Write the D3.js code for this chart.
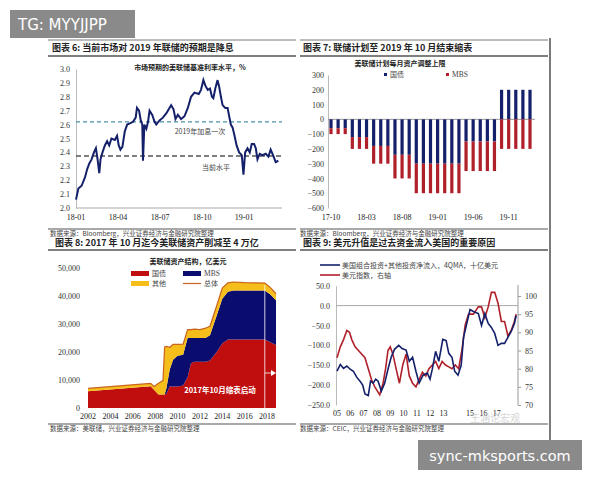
<!DOCTYPE html>
<html><head><meta charset="utf-8">
<script src="https://cdn.jsdelivr.net/npm/d3@7"></script>
<style>
body{margin:0;background:#fff}
text{font-family:"Liberation Serif","Noto Sans CJK SC",serif}
text.cn{font-family:"Noto Sans CJK SC",sans-serif}
text.wm{font-family:"DejaVu Sans",sans-serif}
</style></head><body>
<svg id="c" width="600" height="480"></svg>
<script>
// ---------- data ----------
// fig 6: market-implied policy rate, months since 2018-01
var rateMonths = [0,0.17,0.4,0.64,0.8,0.95,1.11,1.28,1.42,1.54,1.66,1.75,1.89,2.06,2.22,2.37,2.53,2.77,2.93,3.05,3.17,3.31,3.48,3.65,3.88,4.07,4.26,4.35,4.5,4.62,4.73,4.78,4.88,5.02,5.14,5.25,5.44,5.61,5.73,5.96,6.2,6.44,6.67,6.79,6.96,7.1,7.27,7.5,7.74,7.98,8.21,8.45,8.76,8.92,9.09,9.23,9.4,9.56,9.7,9.8,9.94,10.1,10.22,10.34,10.46,10.65,10.82,10.93,11.05,11.17,11.29,11.46,11.64,11.83,11.95,12.07,12.24,12.4,12.54,12.71,12.83,12.95,13.11,13.3,13.54,13.73,13.89,14.06,14.25,14.44];
var rateVals = [2.06,2.14,2.16,2.22,2.28,2.32,2.35,2.40,2.43,2.35,2.25,2.35,2.40,2.45,2.48,2.45,2.50,2.49,2.52,2.45,2.42,2.44,2.55,2.60,2.61,2.62,2.65,2.72,2.70,2.63,2.60,2.34,2.60,2.57,2.62,2.70,2.67,2.62,2.60,2.63,2.65,2.68,2.72,2.74,2.71,2.64,2.67,2.64,2.66,2.72,2.80,2.83,2.82,2.85,2.92,2.88,2.85,2.86,2.80,2.79,2.86,2.92,2.87,2.80,2.74,2.72,2.72,2.66,2.60,2.58,2.53,2.45,2.40,2.38,2.24,2.40,2.43,2.40,2.46,2.46,2.43,2.35,2.39,2.38,2.39,2.37,2.42,2.38,2.33,2.34];
var rateTicks = ["18-01","18-04","18-07","18-10","19-01"];
var hikeOnce = 2.62, nowLevel = 2.375;

// fig 7: monthly runoff caps (MBS stacked below treasuries)
var capTsy = [-60,-60,-60,-120,-120,-120,-180,-180,-180,-240,-240,-240,-300,-300,-300,-300,-300,-300,-300,-150,-150,-150,-150,-150,200,200,200,200,200];
var capMbs = [-40,-40,-40,-80,-80,-80,-120,-120,-120,-160,-160,-160,-200,-200,-200,-200,-200,-200,-200,-200,-200,-200,-200,-200,-200,-200,-200,-200,-200];
var capTicks = ["17-10","18-03","18-08","19-01","19-06","19-11"];

// fig 8: Fed balance sheet, 亿美元
var bsYears = [2002,2007.6,2007.9,2008.3,2008.7,2008.85,2009.0,2009.3,2009.6,2010.0,2010.5,2010.9,2011.2,2011.5,2012.0,2012.5,2012.9,2013.5,2014.0,2014.5,2015,2016,2017,2017.8,2018.3,2018.8];
var bsTsy = [6000,7800,6500,4800,4800,4800,5000,7700,7700,7700,8000,11000,16000,16500,16500,16500,17000,20000,23000,24500,24500,24500,24500,24500,23500,22500];
var bsMbs = [0,0,0,0,0,0,2000,6000,9500,11000,11000,14000,9000,8500,8500,8500,9000,13000,16000,17000,17500,17500,17500,17500,17000,16000];
var bsOther = [1000,1000,1200,4000,5000,17000,15000,8000,5500,4000,3800,3000,3000,3200,3000,3500,3200,3500,3800,3200,3000,2800,2700,2600,2500,2300];

// fig 9: flows vs dollar index, years since 2005
var flowT = [0,.25,.49,.74,.99,1.23,1.48,1.73,1.93,2.1,2.35,2.52,2.72,2.91,3.09,3.33,3.58,3.83,4.07,4.32,4.64,4.89,5.19,5.43,5.68,5.93,6.17,6.47,6.79,6.99,7.16,7.41,7.65,7.95,8.2,8.4,8.64,8.84,9.09,9.33,9.51,9.75,10,10.25,10.62,10.86,11.11,11.36,11.6,11.85,12.1,12.35,12.59,12.84,13.09,13.33,13.46];
var flowV = [-165,-148,-158,-152,-160,-165,-180,-190,-200,-222,-226,-190,-195,-185,-190,-215,-195,-160,-130,-110,-100,-108,-112,-140,-130,-165,-195,-175,-170,-185,-160,-115,-140,-85,-88,-120,-130,-165,-175,-150,-80,-45,-10,-15,-20,-50,-20,-45,-55,-70,-100,-95,-95,-80,-65,-45,-25];
var dxyT = [0,.25,.49,.74,.94,1.11,1.36,1.73,2.1,2.35,2.59,2.84,3.21,3.46,3.65,3.83,4,4.2,4.44,4.69,4.94,5.19,5.43,5.68,5.93,6.17,6.42,6.67,6.91,7.16,7.41,7.65,7.9,8.15,8.4,8.64,8.89,9.14,9.38,9.63,9.88,10.25,10.62,10.86,11.11,11.36,11.6,11.85,12.1,12.35,12.59,12.84,13.09,13.33,13.46];
var dxyV = [83,86,88,90.5,90,88,86,84.5,83,80,77,75,72.8,76,80,85,86,84,80,76,81,84,78,76,75,77,79,78,80,81,82,80,82,81,80.5,80,81,80,85,92,95,95,97,97,94,97,101,101,98,93,93,89,90.5,93,95];
var yearLabels = ["05","06","07","08","09","10","11","12","13","15","16","17"];
var yearOffs = [0,1,2,3,4,5,6,7,8,10,11,12];

var navy = "#14206a", red = "#b0202a";
var svg = d3.select("#c");

function txt(x, y, s, o) {
  o = o || {};
  return svg.append("text").attr("x", x).attr("y", y).text(s)
    .attr("font-size", o.size || 8).attr("fill", o.fill || "#222")
    .attr("text-anchor", o.anchor || "start")
    .attr("font-weight", o.bold ? "bold" : null)
    .attr("class", o.cls || null);
}
function rule(x1, x2, y, w) {
  svg.append("line").attr("x1", x1).attr("x2", x2).attr("y1", y).attr("y2", y)
    .attr("stroke", "#555").attr("stroke-width", w || 0.8);
}
function styleAxis(g) {
  g.selectAll("path,line").attr("stroke", "#999");
  g.selectAll("text").attr("font-size", 8).attr("fill", "#333");
}

// ---------- frame ----------
rule(48, 296, 40, 0.8); rule(48, 296, 56, 1.5); rule(48, 296, 229, 1.2);
rule(300, 548, 40, 0.8); rule(300, 548, 56, 1.5); rule(300, 548, 229, 1.2);
rule(48, 296, 250, 1.5); rule(48, 296, 424, 1.2);
rule(300, 548, 250, 1.5); rule(300, 548, 424, 1.2);
svg.append("line").attr("x1", 550).attr("x2", 550).attr("y1", 38).attr("y2", 440)
  .attr("stroke", "#222").attr("stroke-width", 1.2);

txt(52, 51, "图表 6:  当前市场对 2019 年联储的预期是降息", {size: 9, bold: true, cls: "cn"});
txt(303, 51, "图表 7:  联储计划至 2019 年 10 月结束缩表", {size: 9, bold: true, cls: "cn"});
txt(55, 246, "图表 8:  2017 年 10 月迄今美联储资产削减至 4 万亿", {size: 9, bold: true, cls: "cn"});
txt(303, 246, "图表 9:  美元升值是过去资金流入美国的重要原因", {size: 9, bold: true, cls: "cn"});
txt(50, 236, "数据来源：Bloomberg，兴业证券经济与金融研究院整理", {size: 6.5, cls: "cn", fill: "#444"});
txt(300, 236, "数据来源：Bloomberg，兴业证券经济与金融研究院整理", {size: 6.5, cls: "cn", fill: "#444"});
txt(50, 431, "数据来源：美联储，兴业证券经济与金融研究院整理", {size: 6.5, cls: "cn", fill: "#444"});
txt(300, 431, "数据来源：CEIC，兴业证券经济与金融研究院整理", {size: 6.5, cls: "cn", fill: "#444"});

// ---------- fig 6 ----------
(function () {
  var x = d3.scaleLinear().domain([0, 14.7]).range([76, 282]);
  var y = d3.scaleLinear().domain([2.0, 3.0]).range([208, 69]);
  var ga = svg.append("g").attr("transform", "translate(76,0)")
    .call(d3.axisLeft(y).tickValues(d3.range(2.0, 3.01, 0.1)).tickFormat(d3.format(".1f")).tickSize(0).tickPadding(6));
  styleAxis(ga); ga.select("path").attr("stroke", "#bbb");
  svg.append("line").attr("x1", 76).attr("x2", 282).attr("y1", 208).attr("y2", 208).attr("stroke", "#aaa");
  rateTicks.forEach(function (t, i) { txt(x(i * 3), 220, t, {anchor: "middle"}); });
  svg.append("line").attr("x1", 76).attr("x2", 282).attr("y1", y(hikeOnce)).attr("y2", y(hikeOnce))
    .attr("stroke", "#4b93a8").attr("stroke-dasharray", "4,3").attr("stroke-width", 1.2);
  svg.append("line").attr("x1", 76).attr("x2", 282).attr("y1", y(nowLevel)).attr("y2", y(nowLevel))
    .attr("stroke", "#555").attr("stroke-dasharray", "5,3").attr("stroke-width", 1.5);
  svg.append("path").datum(d3.zip(rateMonths, rateVals))
    .attr("d", d3.line().x(function (d) { return x(d[0]); }).y(function (d) { return y(d[1]); }))
    .attr("fill", "none").attr("stroke", navy).attr("stroke-width", 2);
  txt(190, 70, "市场预期的美联储基准利率水平，%", {size: 7, bold: true, anchor: "middle", cls: "cn"});
  txt(200, 134, "2019年加息一次", {size: 7, anchor: "middle", cls: "cn", fill: "#444"});
  txt(216, 170, "当前水平", {size: 7, anchor: "middle", cls: "cn", fill: "#444"});
})();

// ---------- fig 7 ----------
(function () {
  var x = d3.scaleLinear().domain([0, 28]).range([331, 530]);
  var y = d3.scaleLinear().domain([-600, 300]).range([208, 75]);
  var ga = svg.append("g").attr("transform", "translate(328,0)")
    .call(d3.axisLeft(y).tickValues(d3.range(-600, 301, 100)).tickSize(0).tickPadding(4));
  styleAxis(ga); ga.select("path").attr("stroke", "#bbb");
  svg.append("line").attr("x1", 328).attr("x2", 535).attr("y1", y(0)).attr("y2", y(0)).attr("stroke", "#999");
  capTicks.forEach(function (t, i) { txt(x(i * 5), 220, t, {anchor: "middle"}); });
  var idx = d3.range(capTsy.length);
  svg.selectAll(".bt").data(idx).enter().append("rect")
    .attr("x", function (i) { return x(i) - 1.6; }).attr("width", 3.2)
    .attr("y", function (i) { return y(Math.max(0, capTsy[i])); })
    .attr("height", function (i) { return Math.abs(y(capTsy[i]) - y(0)); })
    .attr("fill", navy);
  svg.selectAll(".bm").data(idx).enter().append("rect")
    .attr("x", function (i) { return x(i) - 1.6; }).attr("width", 3.2)
    .attr("y", function (i) { return y(Math.min(0, capTsy[i])); })
    .attr("height", function (i) { return y(capMbs[i]) - y(0); })
    .attr("fill", red);
  txt(400, 66, "美联储计划每月资产调整上限", {size: 7, bold: true, anchor: "middle", cls: "cn"});
  svg.append("rect").attr("x", 384).attr("y", 73).attr("width", 3).attr("height", 3).attr("fill", navy);
  txt(390, 77, "国债", {size: 7, cls: "cn", fill: "#444"});
  svg.append("rect").attr("x", 446).attr("y", 73).attr("width", 3).attr("height", 3).attr("fill", red);
  txt(452, 77, "MBS", {size: 7.5, fill: "#444"});
})();

// ---------- fig 8 ----------
(function () {
  var x = d3.scaleLinear().domain([2002, 2018.8]).range([88, 276]);
  var y = d3.scaleLinear().domain([0, 50000]).range([408, 268]);
  var ga = svg.append("g").attr("transform", "translate(82,0)")
    .call(d3.axisLeft(y).tickValues(d3.range(0, 50001, 10000)).tickFormat(d3.format(",")).tickSize(0).tickPadding(2));
  styleAxis(ga); ga.select("path").remove();
  var rows = bsYears.map(function (t, i) { return {t: t, tsy: bsTsy[i], mbs: bsMbs[i], other: bsOther[i]}; });
  var stack = d3.stack().keys(["tsy", "mbs", "other"])(rows);
  var cols = {tsy: "#c00d0d", mbs: "#0b0d6e", other: "#f6be1a"};
  var area = d3.area().x(function (d) { return x(d.data.t); })
    .y0(function (d) { return y(d[0]); }).y1(function (d) { return y(d[1]); });
  svg.selectAll(".ar").data(stack).enter().append("path")
    .attr("d", area).attr("fill", function (s) { return cols[s.key]; });
  svg.append("path").datum(rows)
    .attr("d", d3.line().x(function (d) { return x(d.t); }).y(function (d) { return y(d.tsy + d.mbs + d.other); }))
    .attr("fill", "none").attr("stroke", "#c8641e").attr("stroke-width", 1.2);
  d3.range(2002, 2019, 2).forEach(function (yr) { txt(x(yr), 419, String(yr), {anchor: "middle"}); });
  svg.append("line").attr("x1", x(2017.8)).attr("x2", x(2017.8)).attr("y1", 285).attr("y2", 408)
    .attr("stroke", "#fff").attr("stroke-width", 0.8);
  svg.append("line").attr("x1", x(2017.8)).attr("x2", 275).attr("y1", 373).attr("y2", 373)
    .attr("stroke", "#fff").attr("stroke-width", 0.8);
  svg.append("path").attr("d", "M271,370L276,373L271,376Z").attr("fill", "#fff");
  txt(220, 393, "2017年10月缩表启动", {size: 7.5, bold: true, anchor: "middle", cls: "cn", fill: "#fff"});
  txt(188, 264, "美联储资产结构，亿美元", {size: 7, bold: true, anchor: "middle", cls: "cn"});
  svg.append("rect").attr("x", 131).attr("y", 271).attr("width", 18).attr("height", 5).attr("fill", cols.tsy);
  txt(152, 276, "国债", {size: 7, cls: "cn", fill: "#444"});
  svg.append("rect").attr("x", 183).attr("y", 271).attr("width", 18).attr("height", 5).attr("fill", cols.mbs);
  txt(204, 276, "MBS", {size: 7.5, fill: "#444"});
  svg.append("rect").attr("x", 131).attr("y", 281).attr("width", 18).attr("height", 5).attr("fill", cols.other);
  txt(152, 286, "其他", {size: 7, cls: "cn", fill: "#444"});
  svg.append("line").attr("x1", 183).attr("x2", 201).attr("y1", 283.5).attr("y2", 283.5).attr("stroke", "#c8641e").attr("stroke-width", 1.2);
  txt(204, 286, "总体", {size: 7, cls: "cn", fill: "#444"});
})();

// ---------- fig 9 ----------
(function () {
  var x = d3.scaleLinear().domain([0, 13.6]).range([337, 518]);
  var yl = d3.scaleLinear().domain([-250, 50]).range([405, 285.7]);
  var yr = d3.scaleLinear().domain([70, 100]).range([405, 296]);
  var ga = svg.append("g").attr("transform", "translate(336,0)")
    .call(d3.axisLeft(yl).tickValues(d3.range(-250, 51, 50)).tickFormat(d3.format(".1f")).tickSize(0).tickPadding(6));
  styleAxis(ga); ga.select("path").attr("stroke", "#bbb");
  var gb = svg.append("g").attr("transform", "translate(518,0)")
    .call(d3.axisRight(yr).tickValues(d3.range(70, 101, 5)).tickSize(3).tickPadding(4));
  styleAxis(gb); gb.select("path").attr("d", "M0,285V405");
  svg.append("line").attr("x1", 336).attr("x2", 518).attr("y1", yl(0)).attr("y2", yl(0)).attr("stroke", "#aaa");
  yearLabels.forEach(function (t, i) { txt(x(yearOffs[i]), 416, t, {anchor: "middle"}); });
  var ln = function (ys) { return d3.line().x(function (d) { return x(d[0]); }).y(function (d) { return ys(d[1]); }); };
  svg.append("path").datum(d3.zip(dxyT, dxyV)).attr("d", ln(yr))
    .attr("fill", "none").attr("stroke", red).attr("stroke-width", 1.6);
  svg.append("path").datum(d3.zip(flowT, flowV)).attr("d", ln(yl))
    .attr("fill", "none").attr("stroke", navy).attr("stroke-width", 1.6);
  svg.append("line").attr("x1", 320).attr("x2", 340).attr("y1", 265).attr("y2", 265).attr("stroke", navy).attr("stroke-width", 1.6);
  txt(342, 268, "美国组合投资+其他投资净流入，4QMA，十亿美元", {size: 7, cls: "cn", fill: "#444"});
  svg.append("line").attr("x1", 320).attr("x2", 340).attr("y1", 275).attr("y2", 275).attr("stroke", red).attr("stroke-width", 1.6);
  txt(342, 278, "美元指数，右轴", {size: 7, cls: "cn", fill: "#444"});
  txt(470, 422, "王涵论宏观", {size: 10, cls: "cn", fill: "#ccc"}).attr("opacity", 0.8);
})();

// ---------- watermark boxes ----------
svg.append("rect").attr("x", 10).attr("y", 10).attr("width", 125).attr("height", 28).attr("fill", "#8a8a8a");
txt(18, 30, "TG: MYYJJPP", {size: 15, fill: "#fff", cls: "wm"});
svg.append("rect").attr("x", 418).attr("y", 440).attr("width", 164).attr("height", 30).attr("fill", "#8a8a8a");
txt(500, 461, "sync-mksports.com", {size: 14.5, fill: "#fff", anchor: "middle", cls: "wm"});
</script></body></html>
